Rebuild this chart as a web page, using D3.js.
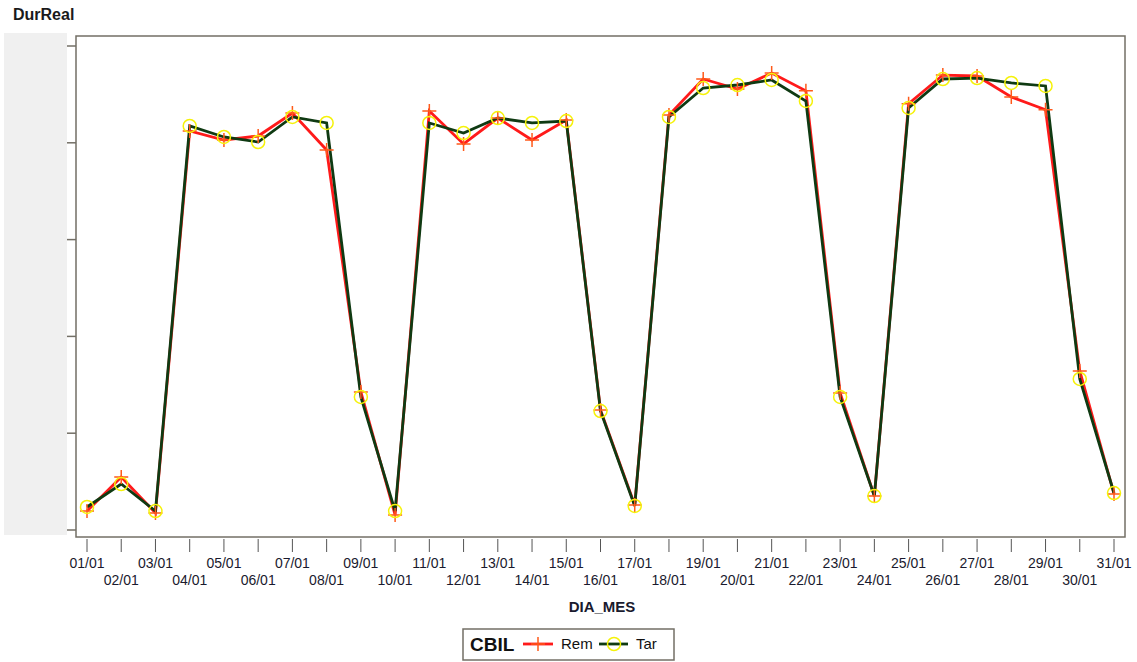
<!DOCTYPE html>
<html>
<head>
<meta charset="utf-8">
<script src="https://cdn.jsdelivr.net/npm/d3@7"></script>
<style>
  body { margin: 0; background: #fff; }
  text { font-family: "Liberation Sans", Arial, sans-serif; }
</style>
</head>
<body>
<div id="chart"></div>
<script>
// days of the month (x categories)
const days = d3.range(1, 32).map(d => String(d).padStart(2, "0") + "/01");

// series values (DurReal)
const remValues = [19.6, 54.8, 17.6, 412.2, 402.9, 407.0, 430.8, 392.6, 142.6, 15.5,
                   432.9, 398.8, 425.6, 402.9, 423.6, 124.0, 25.8, 428.7, 465.9, 455.6,
                   472.1, 453.7, 141.5, 35.1, 440.3, 470.0, 469.0, 447.3, 434.1, 164.3, 37.2];
const tarValues = [23.8, 47.5, 19.6, 417.4, 406.0, 400.8, 426.7, 420.5, 137.4, 19.6,
                   420.5, 410.1, 425.6, 420.5, 422.5, 122.9, 24.8, 426.7, 456.6, 459.7,
                   464.9, 443.2, 137.4, 35.1, 436.0, 465.9, 466.9, 461.8, 458.7, 156.0, 38.2];
const yTicks = [0, 100, 200, 300, 400, 500];

const width = 1137, height = 662;
const frame = {left: 76, top: 36, right: 1125, bottom: 537};

const svg = d3.select("#chart").append("svg")
    .attr("width", width)
    .attr("height", height);

// y label on top
svg.append("text")
    .attr("x", 13).attr("y", 20)
    .attr("font-size", 16).attr("font-weight", "bold")
    .attr("fill", "#1a1a1a")
    .text("DurReal");

// gray band where the tick labels were
svg.append("rect")
    .attr("x", 4).attr("y", 33)
    .attr("width", 63).attr("height", 502)
    .attr("fill", "#f0f0f0");

const x = d3.scalePoint()
    .domain(days)
    .range([87, 1114]);

const y = d3.scaleLinear()
    .domain([0, 500])
    .range([530, 46]);

// frame
svg.append("rect")
    .attr("x", frame.left).attr("y", frame.top)
    .attr("width", frame.right - frame.left)
    .attr("height", frame.bottom - frame.top)
    .attr("fill", "#fff")
    .attr("stroke", "#736f66")
    .attr("stroke-width", 1.5);

// y ticks (no labels)
svg.selectAll(".ytick")
  .data(yTicks)
  .enter().append("line")
    .attr("x1", 67).attr("x2", frame.left)
    .attr("y1", d => y(d)).attr("y2", d => y(d))
    .attr("stroke", "#736f66")
    .attr("stroke-width", 1.5);

// x axis: ticks and staggered labels
const xg = svg.append("g");
xg.selectAll("line")
  .data(days)
  .enter().append("line")
    .attr("x1", d => x(d)).attr("x2", d => x(d))
    .attr("y1", 539).attr("y2", 552)
    .attr("stroke", "#555")
    .attr("stroke-width", 1);
xg.selectAll("text")
  .data(days)
  .enter().append("text")
    .attr("x", d => x(d))
    .attr("y", (d, i) => i % 2 === 0 ? 568 : 585)
    .attr("text-anchor", "middle")
    .attr("font-size", 14)
    .attr("fill", "#1a1a2e")
    .text(d => d);

svg.append("text")
    .attr("x", 602).attr("y", 612)
    .attr("text-anchor", "middle")
    .attr("font-size", 15).attr("font-weight", "bold")
    .attr("fill", "#1a1a2e")
    .text("DIA_MES");

const line = d3.line()
    .x((d, i) => x(days[i]))
    .y(d => y(d));

const plusPath = s => `M${-s},0H${s}M0,${-s}V${s}`;

// Rem series
svg.append("path")
    .datum(remValues)
    .attr("d", line)
    .attr("fill", "none")
    .attr("stroke", "#ff1a1a")
    .attr("stroke-width", 2.8);

// Tar series
svg.append("path")
    .datum(tarValues)
    .attr("d", line)
    .attr("fill", "none")
    .attr("stroke", "#0f3a12")
    .attr("stroke-width", 2.8);

svg.selectAll(".rem")
  .data(remValues)
  .enter().append("path")
    .attr("transform", (d, i) => `translate(${x(days[i])},${y(d)})`)
    .attr("d", plusPath(7))
    .attr("stroke", "#ff5a1a")
    .attr("stroke-width", 1.5)
    .attr("fill", "none");

svg.selectAll(".tar")
  .data(tarValues)
  .enter().append("circle")
    .attr("cx", (d, i) => x(days[i]))
    .attr("cy", d => y(d))
    .attr("r", 6.5)
    .attr("fill", "none")
    .attr("stroke", "#f5f20a")
    .attr("stroke-width", 1.5);

// legend
const lg = svg.append("g");
lg.append("rect")
    .attr("x", 463).attr("y", 629)
    .attr("width", 211).attr("height", 31)
    .attr("fill", "#fff")
    .attr("stroke", "#736f66")
    .attr("stroke-width", 1.5);
lg.append("text")
    .attr("x", 470).attr("y", 651)
    .attr("font-size", 19).attr("font-weight", "bold")
    .attr("fill", "#111")
    .text("CBIL");
lg.append("line")
    .attr("x1", 523).attr("x2", 553).attr("y1", 644).attr("y2", 644)
    .attr("stroke", "#ff1a1a").attr("stroke-width", 2.8);
lg.append("path")
    .attr("transform", "translate(538,644)")
    .attr("d", plusPath(7))
    .attr("stroke", "#ff5a1a").attr("stroke-width", 1.5);
lg.append("text")
    .attr("x", 561).attr("y", 649)
    .attr("font-size", 15).attr("fill", "#111")
    .text("Rem");
lg.append("line")
    .attr("x1", 599).attr("x2", 628).attr("y1", 644).attr("y2", 644)
    .attr("stroke", "#0f3a12").attr("stroke-width", 2.8);
lg.append("circle")
    .attr("cx", 614).attr("cy", 644).attr("r", 6.5)
    .attr("fill", "none")
    .attr("stroke", "#f5f20a").attr("stroke-width", 1.5);
lg.append("text")
    .attr("x", 636).attr("y", 649)
    .attr("font-size", 15).attr("fill", "#111")
    .text("Tar");
</script>
</body>
</html>
